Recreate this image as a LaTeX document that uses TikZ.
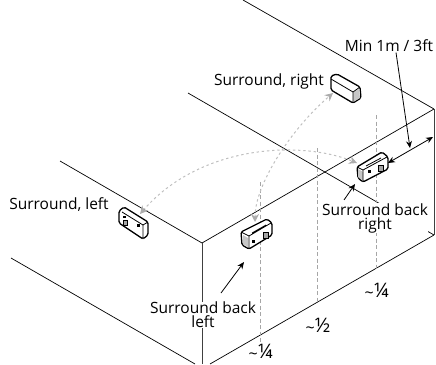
\documentclass[tikz,border=0pt]{standalone}
\usepackage{fontspec}
\setmainfont{Open Sans}
\usetikzlibrary{arrows.meta}
\tikzset{
  wall/.style={line width=0.7pt,black},
  edge/.style={line width=0.9pt,black!75},
  guide/.style={line width=0.7pt,gray!70,dash pattern=on 4pt off 2.5pt},
  arc/.style={line width=1pt,gray!50,dash pattern=on 2.4pt off 2.8pt,{Stealth[length=8pt,width=8pt,gray!65]}-{Stealth[length=8pt,width=8pt,gray!65]}},
  pointer/.style={line width=0.8pt,black,-{Stealth[length=7pt,width=6pt]}},
  both/.style={line width=0.8pt,black,{Stealth[length=7pt,width=6pt]}-{Stealth[length=7pt,width=6pt]}},
  label/.style={font=\fontsize{15.5}{14}\selectfont,inner sep=0.3pt,fill=white,align=center},
  frac/.style={font=\fontsize{20}{20}\selectfont,inner sep=0pt},
  case/.style={line width=1.3pt,black,fill=white,rounded corners=1.6pt,line join=round},
  inner/.style={line width=0.8pt,black},
  shade/.style={fill=gray!45,draw=none}
}
\newcommand{\approxfrac}[1]{\fontsize{16}{20}\selectfont\raisebox{-1pt}{\char`\~}\fontsize{20}{20}\selectfont #1}
\begin{document}
\begin{tikzpicture}[x=1pt,y=-1pt]
\useasboundingbox (0,0) rectangle (436,364);
% room
\draw[wall] (243,0) -- (434,109);
\draw[wall] (188,93) -- (434,235);
\draw[wall] (60,161) -- (202,243);
\draw[wall] (11,258) -- (195,364);
\draw[wall] (202,243) -- (434,109);
\draw[wall] (210,364) -- (434,235);
\draw[edge] (202,243) -- (202,364);
\draw[edge] (434,109) -- (434,235);
% guides
\coordinate (g1a) at (260,182); \coordinate (g1b) at (260,342);
\coordinate (g2a) at (317,148); \coordinate (g2b) at (317,302);
\coordinate (g3a) at (376,115); \coordinate (g3b) at (376,270);
\draw[guide] (g1a) -- (g1b);
\draw[guide] (g2a) -- (g2b);
\draw[guide] (g3a) -- (g3b);
% speaker, surround right
\draw[case] (331,76) -- (337,74) -- (360,87) -- (361,98) -- (353,103) -- (331,90) -- cycle;
\fill[shade] (353,92) -- (359,89) -- (360,98) -- (353,102) -- cycle;
\draw[inner] (331,79) -- (353,92) -- (360,87) (353,92) -- (353,103);
% speaker, surround left
\draw[case] (119,211) -- (124,207) -- (148,222) -- (148,235) -- (143,239) -- (119,223) -- cycle;
\draw[inner] (122,212) -- (143,225) -- (148,222) (143,225) -- (143,239);
\fill[gray!70,draw=black,line width=0.5pt] (123,220) rectangle (127.5,225.5);
\fill (137,224) rectangle (139.5,226.5);
\fill (123,215.5) rectangle (125.5,218);
% speaker, surround back left
\draw[case] (241,232) -- (267,219) -- (272,223) -- (272,235) -- (249,249) -- (242,245) -- cycle;
\fill[shade] (243,235) -- (248,238) -- (248,247) -- (243,244) -- cycle;
\draw[inner] (241,232) -- (249,236) -- (271,223) (249,236) -- (249,249) (252,233) -- (266,225);
\fill[gray!70,draw=black,line width=0.5pt] (263,232) rectangle (268,238);
\fill (252,240) rectangle (254.5,242.5);
% speaker, surround back right
\draw[case] (357,167) -- (382,152) -- (388,157) -- (388,169) -- (363,182) -- (358,178) -- cycle;
\fill[shade] (358,169) -- (363,172) -- (363,181) -- (358,177) -- cycle;
\draw[inner] (357,167) -- (363,170) -- (387,157) (363,170) -- (363,182) (366,166) -- (381,158);
\fill[gray!70,draw=black,line width=0.5pt] (378,165) rectangle (383,171);
\fill (368,170) rectangle (370.5,172.5);
% arcs
\coordinate (sl) at (140,214); \coordinate (brr) at (357,163);
\coordinate (bll) at (255,222); \coordinate (sr) at (333,93);
\draw[arc] (sl) .. controls (200,145) and (300,140) .. (brr);
\draw[arc] (bll) .. controls (255,185) and (290,130) .. (sr);
% labels
\node[label] (lmin) at (389,46) {Min 1m / 3ft};
\node[label] (lsr) at (269,81) {Surround, right};
\node[label] (lsl) at (59,205) {Surround, left};
\node[label] (lbr) at (375,218) {Surround back\\right};
\node[label] (lbl) at (203,315) {Surround back\\left};
\node[frac] (q1) at (377,291) {\approxfrac{¼}};
\node[frac] (q2) at (318,326) {\approxfrac{½}};
\node[frac] (q3) at (261,352) {\approxfrac{¼}};
% pointers
\coordinate (mintip) at (410,148);
\coordinate (dimA) at (388,163); \coordinate (dimB) at (433,137);
\coordinate (blS) at (221,293); \coordinate (blT) at (244,262);
\coordinate (brS) at (344,200); \coordinate (brT) at (355,184);
\draw[pointer] (lmin.south -| 396,0) -- (mintip);
\draw[both] (dimA) -- (dimB);
\draw[pointer] (blS) -- (blT);
\draw[pointer] (brS) -- (brT);
\end{tikzpicture}
\end{document}
